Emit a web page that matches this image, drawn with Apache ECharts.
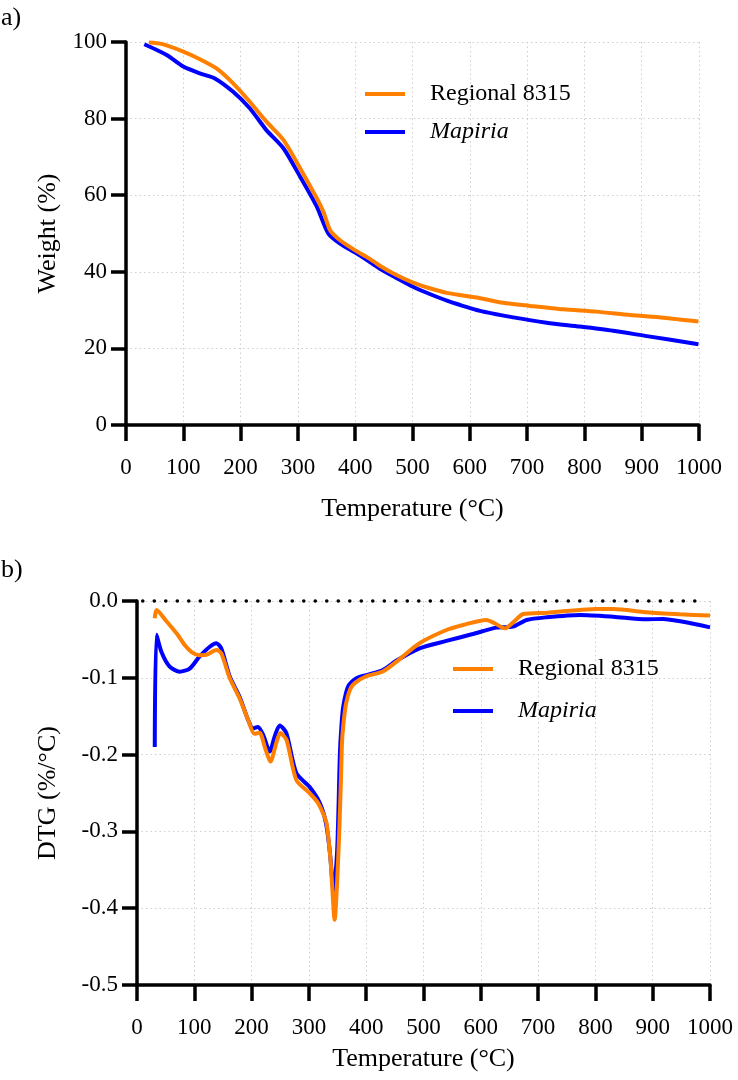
<!DOCTYPE html>
<html>
<head>
<meta charset="utf-8">
<script src="https://cdn.jsdelivr.net/npm/echarts@6/dist/echarts.min.js"></script>
<style>
html,body{margin:0;padding:0;background:#fff;}
#chart{width:738px;height:1080px;}
</style>
</head>
<body>
<div id="chart"></div>
<script>
// ---- Data ----
const seriesNames = ['Regional 8315', 'Mapiria'];

// a) TGA weight (%)
const tgaRegionalT = [40, 62, 100, 129, 158, 187, 216, 245, 275, 304, 333, 345, 356, 373, 400, 420, 443, 470, 501, 530, 560, 618, 658, 705, 763, 821, 880, 938, 999];
const tgaRegionalW = [99.9, 99.5, 97.5, 95.5, 93.1, 89.2, 84.4, 79.2, 74.4, 67.0, 59.2, 55.5, 50.9, 48.3, 45.6, 43.9, 41.6, 39.3, 37.2, 35.7, 34.5, 33.1, 31.9, 31.1, 30.2, 29.6, 28.7, 28.0, 27.0];
const tgaMapiriaT = [32, 71, 100, 129, 155, 187, 216, 245, 275, 304, 333, 353, 373, 400, 420, 443, 472, 501, 530, 560, 618, 676, 734, 792, 850, 909, 999];
const tgaMapiriaW = [99.4, 96.6, 93.6, 91.8, 90.5, 87.0, 82.7, 77.0, 72.2, 64.8, 57.0, 50.0, 47.4, 45.0, 43.1, 40.8, 38.4, 36.1, 34.2, 32.5, 29.8, 28.1, 26.7, 25.7, 24.6, 23.2, 21.1];

// b) DTG (%/°C)
const dtgRegionalT = [31, 34, 51, 70, 84, 96, 108, 121, 138.5, 147, 162, 179, 194, 205, 214, 223, 233, 243, 250, 261, 278, 301, 315, 325, 331, 338, 345, 349, 353, 356, 358, 361, 365, 372, 380, 400, 429, 453, 493, 540, 569, 610, 624, 642, 656, 674, 715, 773, 802, 831, 889, 947, 1000];
const dtgRegionalD = [-0.0225, -0.0117, -0.026, -0.043, -0.058, -0.067, -0.0705, -0.070, -0.0638, -0.068, -0.1007, -0.1267, -0.155, -0.173, -0.1715, -0.19, -0.209, -0.185, -0.172, -0.181, -0.233, -0.250, -0.262, -0.277, -0.29, -0.34, -0.415, -0.37, -0.30, -0.23, -0.181, -0.155, -0.133, -0.115, -0.107, -0.098, -0.0918, -0.079, -0.055, -0.0378, -0.0312, -0.0247, -0.029, -0.0356, -0.0282, -0.0169, -0.0152, -0.0117, -0.0104, -0.0104, -0.0147, -0.0173, -0.019];
const dtgMapiriaT = [31, 34, 42.5, 57, 74.5, 92, 109, 127, 138.5, 147, 162, 179, 194, 202.5, 211, 220, 231.6, 240, 249, 260.7, 278, 301, 319, 330, 337, 343, 349, 352, 354, 357, 360, 368, 383, 400, 429, 453, 493, 540, 586, 627, 656, 680, 715, 773, 831, 889, 918, 953, 1000];
const dtgMapiriaD = [-0.190, -0.044, -0.066, -0.0855, -0.092, -0.088, -0.0725, -0.0595, -0.055, -0.0616, -0.0985, -0.1246, -0.155, -0.166, -0.164, -0.174, -0.196, -0.177, -0.162, -0.172, -0.224, -0.242, -0.263, -0.29, -0.33, -0.378, -0.33, -0.26, -0.2, -0.16, -0.137, -0.112, -0.1006, -0.0964, -0.0898, -0.0776, -0.0616, -0.052, -0.043, -0.0347, -0.0334, -0.0247, -0.0212, -0.0182, -0.0204, -0.0238, -0.0234, -0.027, -0.0343];

// ---- Styling ----
const FONT = 'Liberation Serif, Times New Roman, serif';
const ORANGE = '#FF8000';
const BLUE = '#0000FF';
const zip = (a, b) => a.map((v, i) => [v, b[i]]);

function xAxisFor(gridIndex, nameGap) {
  return {
    gridIndex, type: 'value', min: 0, max: 1000, interval: 100,
    name: 'Temperature (°C)', nameLocation: 'middle', nameGap,
    nameTextStyle: { fontFamily: FONT, fontSize: 26, color: '#000' },
    axisLine: { show: true, onZero: false, lineStyle: { color: '#000', width: 3.5 } },
    axisTick: { show: true, inside: false, length: 16, lineStyle: { color: '#000', width: 3.5 } },
    axisLabel: { fontFamily: FONT, fontSize: 23, color: '#000', margin: 31, formatter: v => String(v) },
    splitLine: { show: true, lineStyle: { color: '#cfcfcf', width: 1, type: [1.5, 3] } }
  };
}
function yAxisFor(gridIndex, opts, fmt) {
  return Object.assign({
    gridIndex, type: 'value',
    nameLocation: 'middle', nameRotate: 90,
    nameTextStyle: { fontFamily: FONT, fontSize: 26, color: '#000' },
    axisLine: { show: true, onZero: false, lineStyle: { color: '#000', width: 3.5 } },
    axisTick: { show: true, inside: false, length: 15, lineStyle: { color: '#000', width: 3.5 } },
    axisLabel: { fontFamily: FONT, fontSize: 23, color: '#000', margin: 19, formatter: fmt },
    splitLine: { show: true, lineStyle: { color: '#cfcfcf', width: 1, type: [1.5, 3] } }
  }, opts);
}
function legendFor(left, top, gap) {
  return {
    left, top, orient: 'vertical', itemGap: gap, padding: 0,
    icon: 'rect', itemWidth: 40, itemHeight: 4,
    textStyle: { fontFamily: FONT, fontSize: 24, color: '#000', padding: [0, 0, 0, 20] },
    data: [
      { name: seriesNames[0] },
      { name: seriesNames[1], textStyle: { fontStyle: 'italic', fontFamily: FONT, fontSize: 24, color: '#000', padding: [0, 0, 0, 20] } }
    ],
    selectedMode: false
  };
}
function lineSeries(name, color, xi, data, extra) {
  return Object.assign({
    name, type: 'line', xAxisIndex: xi, yAxisIndex: xi,
    data, showSymbol: false, symbol: 'none', smooth: 0.25,
    lineStyle: { color, width: 4 }, itemStyle: { color }
  }, extra || {});
}

const option = {
  animation: false,
  backgroundColor: '#fff',
  textStyle: { fontFamily: FONT, color: '#000' },
  graphic: [
    { type: 'text', left: 1, top: 5, style: { text: 'a)', font: '26px ' + FONT, fill: '#000' } },
    { type: 'text', left: 1, top: 557, style: { text: 'b)', font: '26px ' + FONT, fill: '#000' } }
  ],
  grid: [
    { left: 126, top: 42, width: 573, height: 383 },
    { left: 137, top: 601, width: 573, height: 384 }
  ],
  legend: [legendFor(365, 82, 14), legendFor(453, 657, 18)],
  xAxis: [xAxisFor(0, 71), xAxisFor(1, 61)],
  yAxis: [
    yAxisFor(0, { min: 0, max: 100, interval: 20, name: 'Weight (%)', nameGap: 65 }, v => String(v)),
    yAxisFor(1, { min: -0.5, max: 0, interval: 0.1, name: 'DTG (%/°C)', nameGap: 76 }, v => v.toFixed(1))
  ],
  series: [
    lineSeries(seriesNames[1], BLUE, 0, zip(tgaMapiriaT, tgaMapiriaW)),
    lineSeries(seriesNames[0], ORANGE, 0, zip(tgaRegionalT, tgaRegionalW)),
    lineSeries(seriesNames[1], BLUE, 1, zip(dtgMapiriaT, dtgMapiriaD), {
      markLine: {
        silent: true, symbol: 'none', label: { show: false },
        lineStyle: { color: '#000', width: 3.5, type: [0.1, 11.4], cap: 'round' },
        data: [[{ coord: [10, 0] }, { coord: [985, 0] }]]
      }
    }),
    lineSeries(seriesNames[0], ORANGE, 1, zip(dtgRegionalT, dtgRegionalD))
  ]
};

const chart = echarts.init(document.getElementById('chart'), null, { renderer: 'canvas' });
chart.setOption(option);
</script>
</body>
</html>
